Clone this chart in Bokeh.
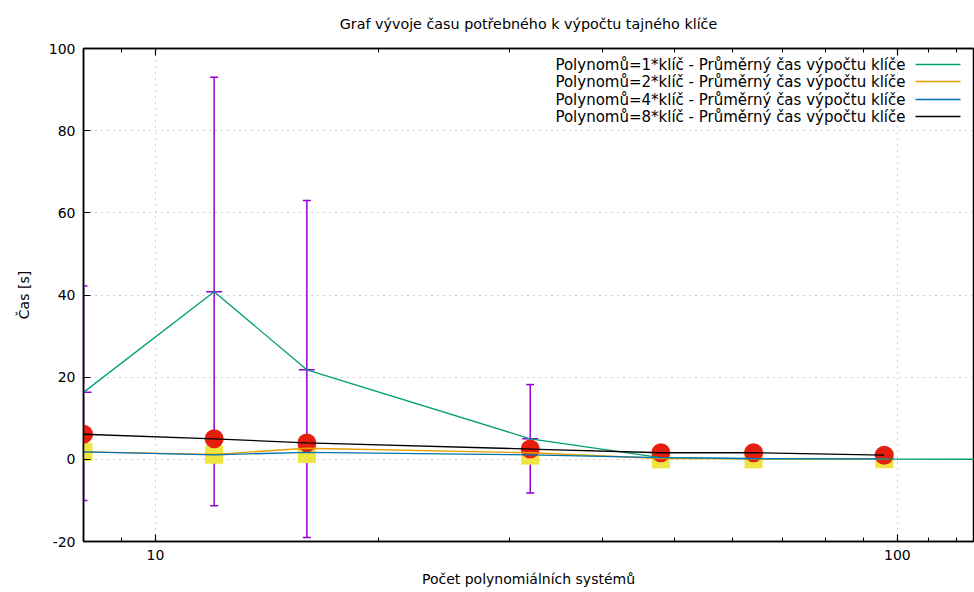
import math
from bokeh.plotting import figure
from bokeh.models import Range1d, FixedTicker, NumeralTickFormatter, LogAxis
from bokeh.core.properties import value
from bokeh.embed import file_html
from bokeh.resources import INLINE

# ---------------- data ----------------
x_vals = [8, 12, 16, 32, 48, 64, 96, 128]
t_1 = [16.3, 40.8, 21.8, 5.0, 0.4, 0.1, 0.05, 0.02]
x_short = [8, 12, 16, 32, 48, 64, 96]
t_2 = [1.8, 1.2, 2.7, 1.6, 0.2, 0.1, 0.1]
t_4 = [1.8, 1.1, 1.7, 1.1, 0.4, 0.2, 0.1]
t_8 = [6.1, 5.0, 4.0, 2.5, 1.6, 1.6, 1.0]
marks_sq = [1.8, 1.1, 1.3, 0.9, 0.0, 0.0, 0.0]
err_x = [8, 12, 16, 32]
err_mean = [16.3, 40.8, 21.8, 5.0]
err_lo = [-10.0, -11.3, -19.0, -8.2]
err_hi = [42.2, 93.0, 63.0, 18.2]
y_ticks = [-20, 0, 20, 40, 60, 80, 100]
x_major_ticks = [10, 100]
x_minor_ticks = [9, 20, 30, 40, 50, 60, 70, 80, 90, 110, 120]
legend_labels = [
    "Polynomů=1*klíč - Průměrný čas výpočtu klíče",
    "Polynomů=2*klíč - Průměrný čas výpočtu klíče",
    "Polynomů=4*klíč - Průměrný čas výpočtu klíče",
    "Polynomů=8*klíč - Průměrný čas výpočtu klíče",
]
title_text = "Graf vývoje času potřebného k výpočtu tajného klíče"
x_label = "Počet polynomiálních systémů"
y_label = "Čas [s]"

# ---------------- style ----------------
GREEN = "#009e73"
ORANGE = "#e69f00"
BLUE = "#0072b2"
BLACK = "#000000"
PURPLE = "#9400d3"
RED = "#e51e10"
YELLOW = "#f0e442"
FONT = "DejaVu Sans"
FS = "14px"

W, H = 974, 592
LEFT, TOP, RIGHT, BOTTOM = 83, 48, 1, 51
FW = W - LEFT - RIGHT
FH = H - TOP - BOTTOM
X0 = 8.0
XEND = X0 * 10 ** (FW / 742.0)
Y0, Y1 = -20, 100


def px_to_x(px):
    return 10 ** (math.log10(X0) + px / FW * (math.log10(XEND) - math.log10(X0)))


def py_to_y(py):
    return Y1 - py / FH * (Y1 - Y0)


p = figure(width=W, height=H, x_axis_type="log", title=None,
           x_range=Range1d(X0, XEND), y_range=Range1d(Y0, Y1),
           output_backend="svg", toolbar_location=None,
           min_border_left=LEFT, min_border_right=RIGHT,
           min_border_top=TOP, min_border_bottom=BOTTOM)

bottom_ax = p.xaxis[0]
left_ax = p.yaxis[0]

bottom_ax.ticker = FixedTicker(ticks=x_major_ticks, minor_ticks=x_minor_ticks)
bottom_ax.formatter = NumeralTickFormatter(format="0")
left_ax.ticker = FixedTicker(ticks=y_ticks)
left_ax.major_label_overrides = {t: str(t) for t in y_ticks}
bottom_ax.axis_label = x_label
left_ax.axis_label = y_label

# top axis: mirror ticks, carries the chart title as its label
top_ax = LogAxis(ticker=FixedTicker(ticks=x_major_ticks, minor_ticks=x_minor_ticks),
                 formatter=NumeralTickFormatter(format="0"),
                 major_label_text_font_size="1px", major_label_text_color=None,
                 major_label_standoff=0, axis_label=title_text)
p.add_layout(top_ax, "above")

for ax in (bottom_ax, left_ax, top_ax):
    ax.major_label_text_font = FONT
    ax.axis_label_text_font = FONT
    ax.axis_label_text_font_size = FS
    ax.axis_label_text_font_style = "normal"
    ax.axis_label_text_color = "black"
    ax.major_tick_in = 7
    ax.major_tick_out = 0
    ax.minor_tick_in = 4
    ax.minor_tick_out = 0
    ax.axis_line_color = "black"
    ax.axis_line_width = 1.5
    ax.major_tick_line_color = "black"
    ax.major_tick_line_width = 1.2
    ax.minor_tick_line_color = "black"

for ax in (bottom_ax, left_ax):
    ax.major_label_text_font_size = FS
    ax.major_label_text_color = "black"
    ax.major_label_standoff = 8
    ax.axis_label_standoff = 8

left_ax.minor_tick_line_color = None
left_ax.axis_label_standoff = 14
top_ax.axis_label_text_font_size = "14.3px"
top_ax.axis_label_standoff = 17

p.outline_line_color = "black"
p.outline_line_width = 1.5
p.outline_line_alpha = 1.0

for g in (p.xgrid, p.ygrid):
    g.grid_line_color = "#a0a0a0"
    g.grid_line_dash = "1 5"
    g.grid_line_width = 1
p.xgrid.ticker = FixedTicker(ticks=x_major_ticks)
p.ygrid.ticker = FixedTicker(ticks=y_ticks)

# error bars
p.segment(x0=err_x, y0=err_lo, x1=err_x, y1=err_hi, line_color=PURPLE, line_width=1.5)
p.scatter(x=err_x + err_x, y=err_lo + err_hi, marker="dash", size=8,
          line_color=PURPLE, line_width=1.5)
p.scatter(x=err_x, y=err_mean, marker="dash", size=16, line_color=PURPLE, line_width=1.5)

# point markers
p.scatter(x=x_short, y=marks_sq, marker="square", size=18, fill_color=YELLOW, line_color=None)
p.scatter(x=x_short, y=t_8, marker="circle", size=19, fill_color=RED, line_color=None)

# lines
p.line(x_vals, t_1, line_color=GREEN, line_width=1.3)
p.line(x_short, t_2, line_color=ORANGE, line_width=1.3)
p.line(x_short, t_4, line_color=BLUE, line_width=1.3)
p.line(x_short, t_8, line_color=BLACK, line_width=1.3)

# legend (gnuplot style: text then sample line)
colors = [GREEN, ORANGE, BLUE, BLACK]
rows_py = [16, 33, 51, 68]
tx = px_to_x(822)
lx0 = px_to_x(832)
lx1 = px_to_x(877)
ly = [py_to_y(r) for r in rows_py]
p.text(x=[tx] * 4, y=ly, text=legend_labels, text_align="right", text_baseline="middle",
       text_font=value(FONT), text_font_size="15px", text_color="black")
p.segment(x0=[lx0] * 4, y0=ly, x1=[lx1] * 4, y1=ly, line_color=colors, line_width=1.3)

open("out.html", "w").write(file_html(p, INLINE))
